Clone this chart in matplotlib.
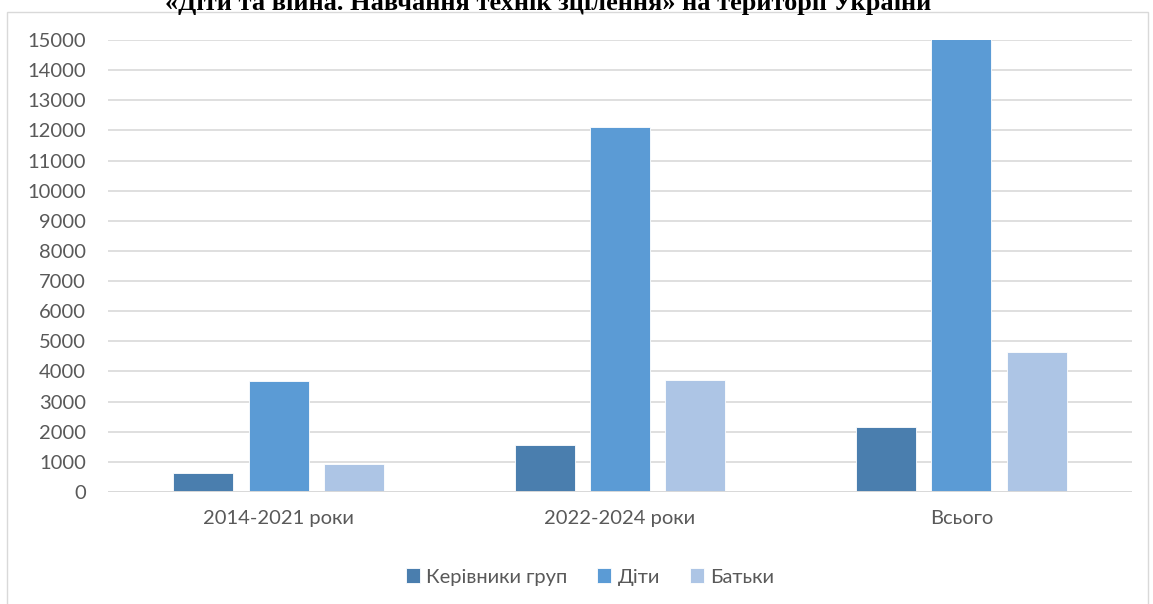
import numpy as np
import matplotlib.pyplot as plt
from matplotlib.patches import Rectangle

plt.rcParams['font.family'] = ['Lato', 'DejaVu Sans']

categories = ['2014-2021 роки', '2022-2024 роки', 'Всього']
series_names = ['Керівники груп', 'Діти', 'Батьки']
leaders = [640, 1550, 2150]
children = [3690, 12110, 15050]
parents = [920, 3730, 4640]
colors = ['#4a7eae', '#5b9bd5', '#adc5e5']
yticks = list(range(0, 15001, 1000))

fig = plt.figure(figsize=(11.53, 6.04), dpi=100)
ax = fig.add_axes([108 / 1153, 1 - 492 / 604, 1024 / 1153, 452 / 604])

x = np.arange(len(categories))
step = 0.221
width = 0.176
for i, (vals, name) in enumerate(zip([leaders, children, parents], series_names)):
    ax.bar(x + (i - 1) * step, vals, width, color=colors[i], label=name,
           edgecolor='white', linewidth=0.6, zorder=3)

ax.set_xlim(-0.5, 2.5)
ax.set_ylim(0, 15000)
ax.set_yticks(yticks)
ax.set_yticklabels([str(t) for t in yticks])
ax.set_xticks(x)
ax.set_xticklabels(categories)
ax.tick_params(axis='both', length=0, labelsize=14.5, colors='#595959')
ax.tick_params(axis='y', pad=16)
ax.tick_params(axis='x', pad=13)
ax.grid(axis='y', color='#d9d9d9', linewidth=1.2, zorder=0)
for s in ax.spines.values():
    s.set_visible(False)
ax.set_axisbelow(True)
ax.axhline(0, color='#d9d9d9', linewidth=1.4, zorder=4)

leg = ax.legend(loc='center', bbox_to_anchor=(590 / 1153, 1 - 577 / 604),
                bbox_transform=fig.transFigure, ncol=3, frameon=False,
                fontsize=14.5, handlelength=0.7, handleheight=0.7,
                handletextpad=0.3, columnspacing=1.5)
for t in leg.get_texts():
    t.set_color('#595959')

# chart border
fig.patches.append(Rectangle((7 / 1153, -0.02), 1141 / 1153, 1 - 12 / 604 + 0.02,
                             transform=fig.transFigure, fill=False,
                             edgecolor='#d9d9d9', linewidth=1.0))

# title (cut at the top of the image, as in the reference)
fig.text(548 / 1153, 1 - 10 / 604,
         '«Діти та війна. Навчання технік зцілення» на території України',
         ha='center', va='baseline', fontsize=19, fontweight='bold',
         family=['Liberation Serif', 'DejaVu Serif'], color='black')

fig.savefig('out.png', dpi=100)
